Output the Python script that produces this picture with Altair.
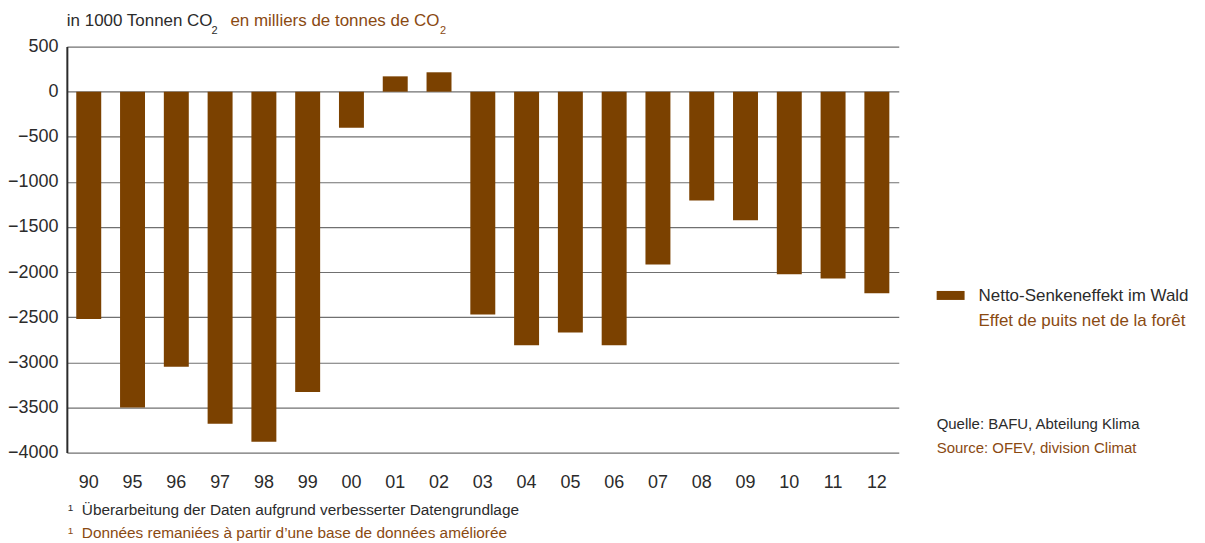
import altair as alt
import pandas as pd

# ---- data ----
years = ["90", "95", "96", "97", "98", "99", "00", "01", "02", "03",
         "04", "05", "06", "07", "08", "09", "10", "11", "12"]
values = [-2520, -3500, -3050, -3680, -3880, -3330, -400, 170, 215, -2470,
          -2810, -2670, -2810, -1915, -1205, -1425, -2025, -2070, -2235]
y_ticks = [500, 0, -500, -1000, -1500, -2000, -2500, -3000, -3500, -4000]

title_de = "in 1000 Tonnen CO"
title_fr = "en milliers de tonnes de CO"
legend_de = "Netto-Senkeneffekt im Wald"
legend_fr = "Effet de puits net de la forêt"
source_de = "Quelle: BAFU, Abteilung Klima"
source_fr = "Source: OFEV, division Climat"
foot_de = "Überarbeitung der Daten aufgrund verbesserter Datengrundlage"
foot_fr = "Données remaniées à partir d\u2019une base de données améliorée"

BAR = "#7b4100"
BROWN = "#8a4a12"
DARK = "#2b2b2b"
FONT = "Liberation Sans"

W, H = 834, 407

df = pd.DataFrame({"year": years, "value": values})

bars = alt.Chart(df).mark_bar(color=BAR).encode(
    x=alt.X("year:O", sort=years, title=None,
            scale=alt.Scale(paddingInner=0.43, paddingOuter=0.215),
            axis=alt.Axis(domain=False, ticks=False, labelAngle=0,
                          labelFont=FONT, labelFontSize=18, labelColor=DARK,
                          labelPadding=21)),
    y=alt.Y("value:Q", title=None,
            scale=alt.Scale(domain=[-4000, 500], nice=False),
            axis=alt.Axis(values=y_ticks, grid=True, gridColor="#707070",
                          gridWidth=1.2, domain=True, domainColor=DARK,
                          domainWidth=2, ticks=False, labelFont=FONT,
                          labelFontSize=18, labelColor=DARK, labelPadding=9,
                          format="d")),
)

one = pd.DataFrame({"k": [0]})


def txt(text, x, y, color, size, align="left", font=FONT):
    return alt.Chart(one).mark_text(
        text=text, align=align, baseline="middle", font=font,
        fontSize=size, color=color
    ).encode(x=alt.value(x), y=alt.value(y))


layers = [
    bars,
    txt(title_de, 0, -26, DARK, 17),
    txt("2", 145, -16, DARK, 11),
    txt(title_fr, 164, -26, BROWN, 17),
    txt("2", 374, -16, BROWN, 11),
    alt.Chart(one).mark_rect(color=BAR).encode(
        x=alt.value(872), x2=alt.value(900), y=alt.value(245), y2=alt.value(254)),
    txt(legend_de, 914, 250, DARK, 17),
    txt(legend_fr, 914, 275, BROWN, 17),
    txt(source_de, 872, 378, DARK, 15),
    txt(source_fr, 872, 402, BROWN, 15),
    txt("1", 1, 463, DARK, 10),
    txt(foot_de, 15, 465, DARK, 15.4),
    txt("1", 1, 486, BROWN, 10),
    txt(foot_fr, 15, 488, BROWN, 15.4),
]

chart = alt.layer(*layers).properties(
    width=W, height=H,
    autosize=alt.AutoSizeParams(type="none"),
    padding={"left": 59, "top": 38, "right": 299, "bottom": 88},
).configure_view(stroke=None)

chart.save("out.html", embed_options={"renderer": "svg", "actions": False})
